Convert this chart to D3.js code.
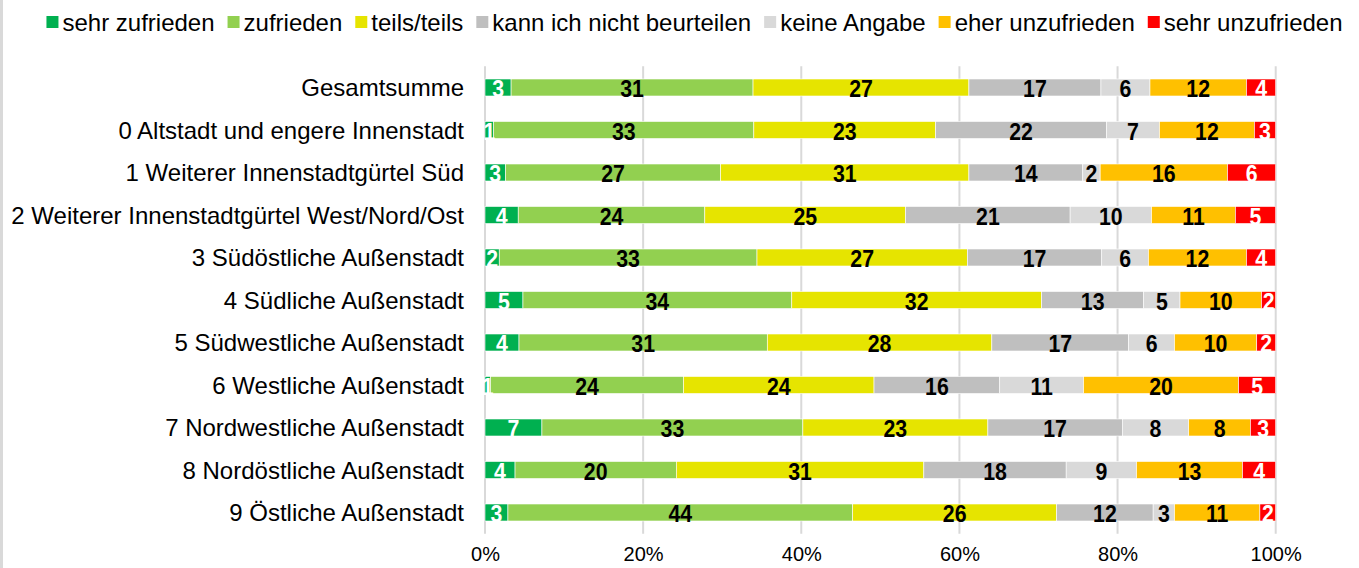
<!DOCTYPE html>
<html>
<head>
<meta charset="utf-8">
<script src="https://cdn.jsdelivr.net/npm/d3@7/dist/d3.min.js"></script>
<style>
	html, body { margin: 0; padding: 0; background: #fff; }
	svg { display: block; font-family: "Liberation Sans", Arial, sans-serif; }
</style>
</head>
<body>
<div id="chart"></div>
<script>
// Kategorien (von oben nach unten)
const categories = [
	'Gesamtsumme',
	'0 Altstadt und engere Innenstadt',
	'1 Weiterer Innenstadtgürtel Süd',
	'2 Weiterer Innenstadtgürtel West/Nord/Ost',
	'3 Südöstliche Außenstadt',
	'4 Südliche Außenstadt',
	'5 Südwestliche Außenstadt',
	'6 Westliche Außenstadt',
	'7 Nordwestliche Außenstadt',
	'8 Nordöstliche Außenstadt',
	'9 Östliche Außenstadt',
];

const seriesNames = [
	'sehr zufrieden',
	'zufrieden',
	'teils/teils',
	'kann ich nicht beurteilen',
	'keine Angabe',
	'eher unzufrieden',
	'sehr unzufrieden',
];

// Anteile in Prozent, je Kategorie
const sehrZufrieden   = [3.3, 1.1, 2.6, 4.2, 1.8, 4.8, 4.3, 0.7, 7.2, 3.8, 2.9];
const zufrieden       = [30.6, 32.9, 27.2, 23.6, 32.6, 34.0, 31.4, 24.4, 33.0, 20.4, 43.6];
const teilsTeils      = [27.3, 23.0, 31.4, 25.4, 26.6, 31.6, 28.4, 24.1, 23.4, 31.3, 25.8];
const kannNicht       = [16.7, 21.6, 14.4, 20.8, 17.0, 12.9, 17.3, 15.9, 17.0, 18.0, 12.2];
const keineAngabe     = [6.2, 6.7, 2.2, 10.3, 5.9, 4.6, 5.8, 10.6, 8.4, 8.9, 2.7];
const eherUnzufrieden = [12.2, 12.0, 16.1, 10.6, 12.4, 10.3, 10.4, 19.6, 7.8, 13.4, 10.8];
const sehrUnzufrieden = [3.7, 2.7, 6.1, 5.1, 3.7, 1.8, 2.4, 4.7, 3.2, 4.2, 2.0];

const axisTicks = [0, 20, 40, 60, 80, 100];

class StackedBarChart {
	constructor(container) {
		const me = this;
		me._width = 1359;
		me._height = 568;
		me._chartStyle = {
			plotLeft: 485,
			plotRight: 1275.7,
			plotTop: 66.25,
			plotBottom: 533.75,
			colors: ['#00b050', '#92d050', '#e6e400', '#bfbfbf', '#d9d9d9', '#ffc000', '#ff0000'],
			labelColors: ['#fff', '#000', '#000', '#000', '#000', '#000', '#fff'],
			gridColor: '#d9d9d9',
			fontSize: 24,
			valueFontSize: 24.5,
			valueScaleX: 0.87,
			tickFontSize: 20,
		};
		me._svg = d3.select(container).append('svg')
			.attr('width', me._width)
			.attr('height', me._height);
	}

	set data(rows) {
		this._rows = rows;
	}

	render() {
		const me = this;
		const {plotLeft, plotRight, plotTop, plotBottom, colors, labelColors, gridColor,
			fontSize, valueFontSize, valueScaleX, tickFontSize} = me._chartStyle;
		const svg = me._svg;

		// linker Rahmen
		svg.append('line')
			.attr('x1', 1.5).attr('x2', 1.5)
			.attr('y1', 0).attr('y2', me._height)
			.attr('stroke', gridColor)
			.attr('stroke-width', 3);

		const x = d3.scaleLinear().domain([0, 100]).range([plotLeft, plotRight]);
		const y = d3.scaleBand()
			.domain(categories)
			.range([plotTop, plotBottom])
			.paddingInner(0.6)
			.paddingOuter(0.3);

		// Gitterlinien
		svg.append('g')
			.selectAll('line')
			.data(axisTicks)
			.join('line')
			.attr('x1', d => x(d)).attr('x2', d => x(d))
			.attr('y1', plotTop).attr('y2', plotBottom)
			.attr('stroke', gridColor)
			.attr('stroke-width', 2);

		// x-Achse
		const xAxis = svg.append('g')
			.attr('transform', `translate(0,${plotBottom + 13})`)
			.call(d3.axisBottom(x).tickValues(axisTicks).tickFormat(d => d + '%').tickSize(0).tickPadding(0));
		xAxis.select('.domain').remove();
		xAxis.selectAll('text')
			.attr('dy', '0.71em')
			.style('font-size', `${tickFontSize}px`)
			.style('font-family', '"Liberation Sans", Arial, sans-serif')
			.attr('fill', '#000');

		// y-Achse (Kategorien)
		const yAxis = svg.append('g')
			.attr('transform', `translate(${plotLeft - 21},0)`)
			.call(d3.axisLeft(y).tickSize(0).tickPadding(0));
		yAxis.select('.domain').remove();
		yAxis.selectAll('text')
			.attr('dy', '0.36em')
			.style('font-size', `${fontSize}px`)
			.style('font-family', '"Liberation Sans", Arial, sans-serif')
			.attr('fill', '#000');

		// Stapel
		const stacked = d3.stack().keys(seriesNames)(me._rows);

		const layers = svg.append('g')
			.selectAll('g')
			.data(stacked)
			.join('g')
			.attr('fill', (d, i) => colors[i]);

		layers.selectAll('rect')
			.data(d => d)
			.join('rect')
			.attr('x', d => x(d[0]))
			.attr('y', d => y(d.data.name))
			.attr('width', d => x(d[1]) - x(d[0]))
			.attr('height', y.bandwidth())
			.attr('stroke', '#fff')
			.attr('stroke-width', 0.6);

		// Werte (leicht schmal gestellt wie im Original)
		const labels = svg.append('g')
			.selectAll('g')
			.data(stacked)
			.join('g')
			.attr('fill', (d, i) => labelColors[i]);

		labels.selectAll('text')
			.data(d => d)
			.join('text')
			.attr('transform', d => {
				const cx = x((d[0] + d[1]) / 2);
				const cy = y(d.data.name) + y.bandwidth() / 2 + 1;
				return `translate(${cx},${cy}) scale(${valueScaleX},1)`;
			})
			.attr('dy', '0.36em')
			.attr('text-anchor', 'middle')
			.style('font-size', `${valueFontSize}px`)
			.style('font-weight', 'bold')
			.text(d => Math.round(d[1] - d[0]));

		me._renderLegend();
	}

	_renderLegend() {
		const me = this;
		const {colors, fontSize} = me._chartStyle;
		const legend = me._svg.append('g');
		const box = 12;
		const gapText = 4;
		const gapItem = 13;
		let cursor = 0;

		seriesNames.forEach((name, i) => {
			const item = legend.append('g').attr('transform', `translate(${cursor},0)`);
			item.append('rect')
				.attr('x', 0).attr('y', -box / 2)
				.attr('width', box).attr('height', box)
				.attr('fill', colors[i]);
			const t = item.append('text')
				.attr('x', box + gapText)
				.attr('dy', '0.36em')
				.style('font-size', `${fontSize}px`)
				.text(name);
			cursor += box + gapText + t.node().getComputedTextLength() + gapItem;
		});

		const total = cursor - gapItem;
		const center = (47 + 1342) / 2;
		legend.attr('transform', `translate(${center - total / 2},22)`);
	}
}

const rows = categories.map((name, i) => ({
	name,
	'sehr zufrieden': sehrZufrieden[i],
	'zufrieden': zufrieden[i],
	'teils/teils': teilsTeils[i],
	'kann ich nicht beurteilen': kannNicht[i],
	'keine Angabe': keineAngabe[i],
	'eher unzufrieden': eherUnzufrieden[i],
	'sehr unzufrieden': sehrUnzufrieden[i],
}));

const chart = new StackedBarChart(document.getElementById('chart'));
chart.data = rows;
chart.render();
</script>
</body>
</html>
